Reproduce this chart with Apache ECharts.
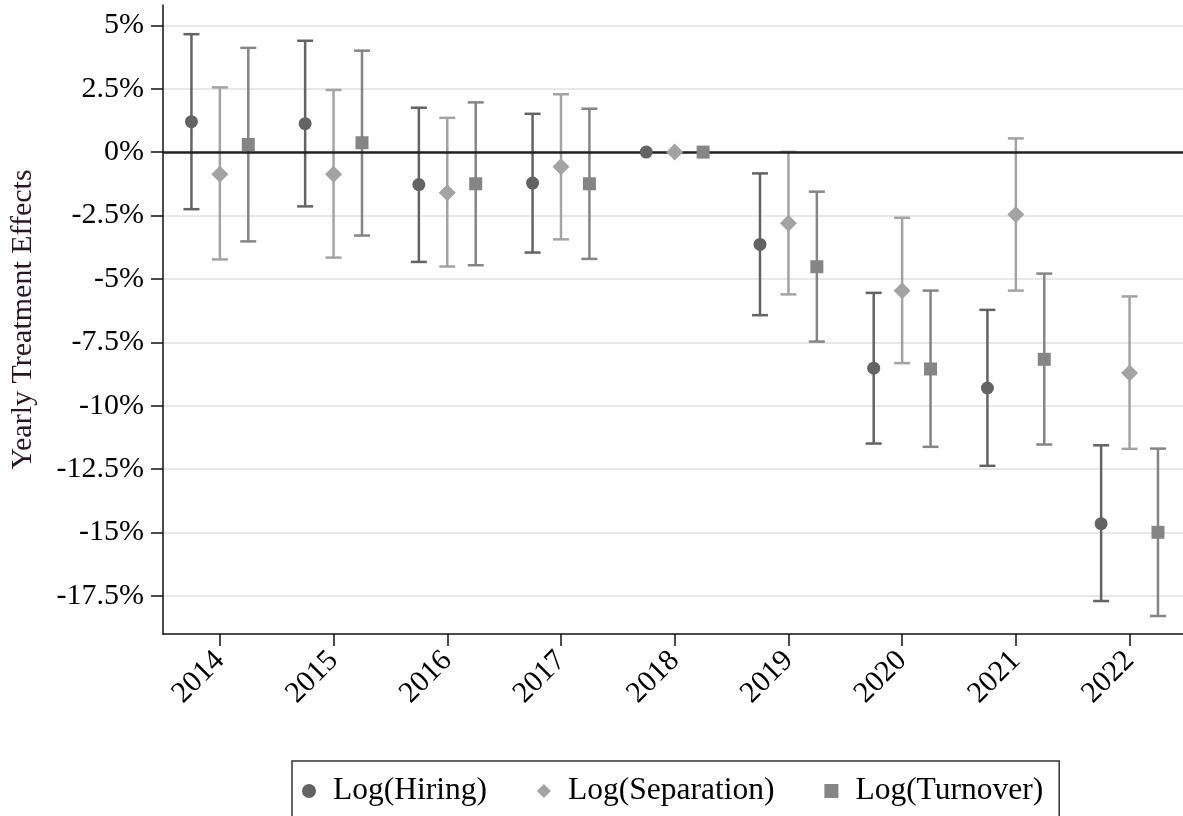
<!DOCTYPE html>
<html>
<head>
<meta charset="UTF-8">
<title>Yearly Treatment Effects</title>
<script src="https://cdn.jsdelivr.net/npm/echarts@6/dist/echarts.min.js"></script>
<style>
  html, body { margin: 0; padding: 0; background: #fff; }
  #chart { width: 1183px; height: 816px; }
</style>
</head>
<body>
<div id="chart"></div>
<script>
// values, in percent
var years = [2014, 2015, 2016, 2017, 2018, 2019, 2020, 2021, 2022];
var yTicks = [5, 2.5, 0, -2.5, -5, -7.5, -10, -12.5, -15, -17.5];

var hiring   = [1.20, 1.12, -1.28, -1.22, 0, -3.64, -8.52, -9.30, -14.65];
var hiringLo = [-2.25, -2.14, -4.33, -3.96, null, -6.43, -11.49, -12.37, -17.70];
var hiringHi = [4.65, 4.39, 1.75, 1.51, null, -0.84, -5.55, -6.22, -11.56];

var separation = [-0.87, -0.87, -1.60, -0.58, 0, -2.81, -5.47, -2.46, -8.71];
var sepLo      = [-4.23, -4.16, -4.51, -3.44, null, -5.61, -8.32, -5.46, -11.70];
var sepHi      = [2.55, 2.45, 1.35, 2.28, null, 0.01, -2.59, 0.54, -5.69];

var turnover = [0.30, 0.37, -1.25, -1.25, 0, -4.52, -8.55, -8.17, -14.99];
var turnLo   = [-3.52, -3.29, -4.46, -4.21, null, -7.47, -11.62, -11.53, -18.29];
var turnHi   = [4.11, 4.00, 1.96, 1.71, null, -1.56, -5.46, -4.79, -11.69];

var serif = "'Liberation Serif', 'Times New Roman', serif";

function points(vals, shift) {
  return years.map(function (y, i) { return [y + shift, vals[i]]; });
}
function bars(lo, hi, shift) {
  var out = [];
  years.forEach(function (y, i) {
    if (lo[i] != null) out.push([y + shift, lo[i], hi[i]]);
  });
  return out;
}
function ciSeries(name, data, color) {
  return {
    name: name,
    type: 'custom',
    z: 3,
    data: data,
    renderItem: function (params, api) {
      var top = api.coord([api.value(0), api.value(2)]);
      var bot = api.coord([api.value(0), api.value(1)]);
      var st = { stroke: color, lineWidth: 2.5 };
      return {
        type: 'group',
        children: [
          { type: 'line', shape: { x1: top[0], y1: top[1], x2: bot[0], y2: bot[1] }, style: st },
          { type: 'line', shape: { x1: top[0] - 8, y1: top[1], x2: top[0] + 8, y2: top[1] }, style: st },
          { type: 'line', shape: { x1: bot[0] - 8, y1: bot[1], x2: bot[0] + 8, y2: bot[1] }, style: st }
        ]
      };
    }
  };
}

var cHire = '#636363', cSep = '#a3a3a3', cTurn = '#858585';

var chart = echarts.init(document.getElementById('chart'));
var option = {
  animation: false,
  backgroundColor: '#fff',
  grid: { left: 163, right: 0, top: 5, bottom: 182, containLabel: false, outerBoundsMode: 'none' },
  xAxis: {
    type: 'value',
    min: 2013.5,
    max: 2022.47,
    axisLine: { onZero: false, lineStyle: { color: '#111', width: 1.5 } },
    axisTick: { show: true, length: 12, customValues: years, lineStyle: { color: '#111', width: 1.5 } },
    axisLabel: {
      customValues: years,
      rotate: 45,
      margin: 22,
      color: '#000',
      fontFamily: serif,
      fontSize: 30,
      formatter: function (v) { return String(v); }
    },
    splitLine: { show: false }
  },
  yAxis: {
    type: 'value',
    min: -19,
    max: 5.8,
    name: 'Yearly Treatment Effects',
    nameLocation: 'middle',
    nameGap: 125,
    nameTextStyle: { color: '#2a1520', fontFamily: serif, fontSize: 30 },
    axisLine: { show: true, onZero: false, lineStyle: { color: '#111', width: 1.5 } },
    axisTick: { show: true, length: 12, customValues: yTicks, lineStyle: { color: '#111', width: 1.5 } },
    axisLabel: {
      customValues: yTicks,
      margin: 19,
      color: '#000',
      fontFamily: serif,
      fontSize: 30,
      formatter: function (v) { return v + '%'; }
    },
    splitLine: { show: true, lineStyle: { color: '#e8e8e8', width: 2 } }
  },
  legend: {
    left: 292,
    top: 761,
    data: [
      { name: 'Log(Hiring)', icon: 'circle' },
      { name: 'Log(Separation)', icon: 'diamond' },
      { name: 'Log(Turnover)', icon: 'rect' }
    ],
    itemWidth: 14,
    itemHeight: 14,
    itemGap: 50,
    padding: [14, 16, 20, 10],
    borderColor: '#333',
    borderWidth: 1.5,
    textStyle: { color: '#000', fontFamily: serif, fontSize: 31.5, padding: [0, 0, 0, 12] }
  },
  series: [
    {
      name: 'zero',
      type: 'line',
      data: [],
      z: 1,
      markLine: {
        silent: true,
        symbol: 'none',
        label: { show: false },
        lineStyle: { color: '#222', width: 2.5, type: 'solid' },
        data: [{ yAxis: 0 }]
      }
    },
    ciSeries('hiring CI', bars(hiringLo, hiringHi, -0.25), cHire),
    ciSeries('separation CI', bars(sepLo, sepHi, 0), cSep),
    ciSeries('turnover CI', bars(turnLo, turnHi, 0.25), cTurn),
    {
      name: 'Log(Hiring)', type: 'scatter', z: 5,
      symbol: 'circle', symbolSize: 13,
      itemStyle: { color: cHire, opacity: 1 },
      data: points(hiring, -0.25)
    },
    {
      name: 'Log(Separation)', type: 'scatter', z: 5,
      symbol: 'diamond', symbolSize: [17, 17],
      itemStyle: { color: cSep, opacity: 1 },
      data: points(separation, 0)
    },
    {
      name: 'Log(Turnover)', type: 'scatter', z: 5,
      symbol: 'rect', symbolSize: 13,
      itemStyle: { color: cTurn, opacity: 1 },
      data: points(turnover, 0.25)
    }
  ]
};
chart.setOption(option);
</script>
</body>
</html>
